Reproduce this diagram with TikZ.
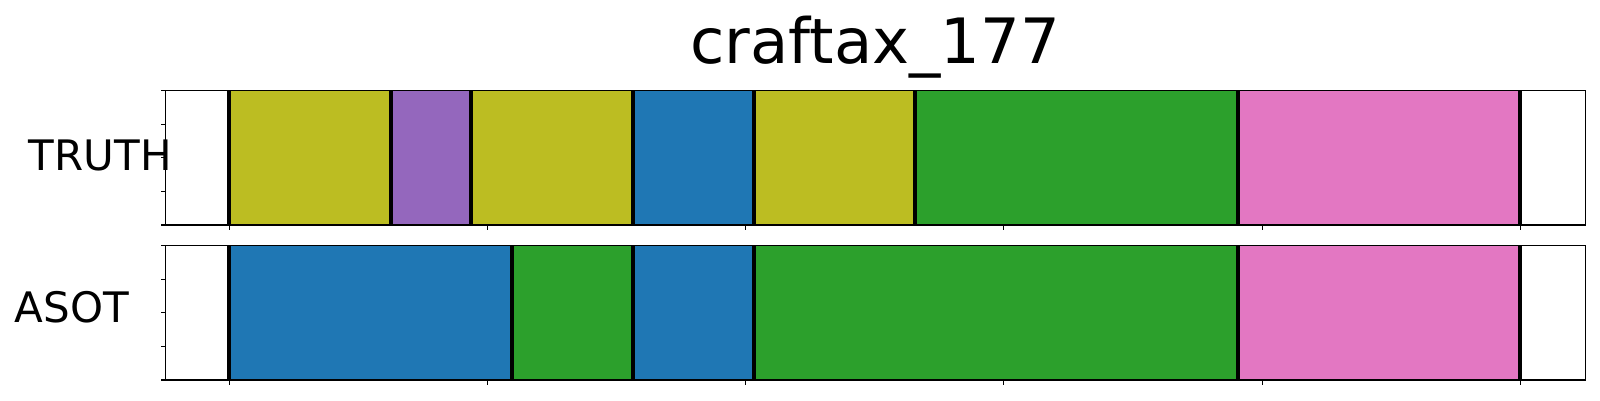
\documentclass[tikz,border=0pt]{standalone}
\usepackage{fontspec}
\setmainfont{DejaVu Sans}
\definecolor{tabolive}{HTML}{BCBD22}
\definecolor{tabpurple}{HTML}{9467BD}
\definecolor{tabblue}{HTML}{1F77B4}
\definecolor{tabgreen}{HTML}{2CA02C}
\definecolor{tabpink}{HTML}{E377C2}
\tikzset{
  boundline/.style={line width=4pt, black},
  axframe/.style={line width=1.4pt, black},
  tickmark/.style={line width=1.1pt, black},
  rowlabel/.style={anchor=base, inner sep=0pt, font=\fontsize{42}{50}\selectfont},
  titlelabel/.style={anchor=base, inner sep=0pt, font=\fontsize{62.5}{74}\selectfont},
}
\begin{document}
\begin{tikzpicture}[x=1pt,y=-1pt]
\useasboundingbox (0,0) rectangle (1600,400);
\fill[white] (0,0) rectangle (1600,400);

% title
\node[titlelabel] (title) at (875,63.3) {craftax\_177};

% row labels
\node[rowlabel] (truth) at (100.4,170) {TRUTH};
\node[rowlabel] (asot) at (72,322.7) {ASOT};

% ---- TRUTH axes (y 90.7 .. 225)
\fill[tabolive]  (229,90.7) rectangle (391,225);
\fill[tabpurple] (391,90.7) rectangle (471,225);
\fill[tabolive]  (471,90.7) rectangle (633,225);
\fill[tabblue]   (633,90.7) rectangle (754,225);
\fill[tabolive]  (754,90.7) rectangle (915,225);
\fill[tabgreen]  (915,90.7) rectangle (1238,225);
\fill[tabpink]   (1238,90.7) rectangle (1520,225);
\foreach \bx in {229,391,471,633,754,915,1238,1520}
  \draw[boundline] (\bx,90.7) -- (\bx,225);
\draw[axframe] (165.7,90.7) rectangle (1585.7,225);
\foreach \ty in {90.7,124.3,157.9,191.4,225}
  \draw[tickmark] (165.7,\ty) -- (160.7,\ty);
\foreach \tx in {229.3,487.5,745.7,1003.9,1262.1,1520.3}
  \draw[tickmark] (\tx,225) -- (\tx,230);

% ---- ASOT axes (y 245.7 .. 380)
\fill[tabblue]  (229,245.7) rectangle (512,380);
\fill[tabgreen] (512,245.7) rectangle (633,380);
\fill[tabblue]  (633,245.7) rectangle (754,380);
\fill[tabgreen] (754,245.7) rectangle (1238,380);
\fill[tabpink]  (1238,245.7) rectangle (1520,380);
\foreach \bx in {229,512,633,754,1238,1520}
  \draw[boundline] (\bx,245.7) -- (\bx,380);
\draw[axframe] (165.7,245.7) rectangle (1585.7,380);
\foreach \ty in {245.7,279.3,312.9,346.4,380}
  \draw[tickmark] (165.7,\ty) -- (160.7,\ty);
\foreach \tx in {229.3,487.5,745.7,1003.9,1262.1,1520.3}
  \draw[tickmark] (\tx,380) -- (\tx,385);
\end{tikzpicture}
\end{document}
